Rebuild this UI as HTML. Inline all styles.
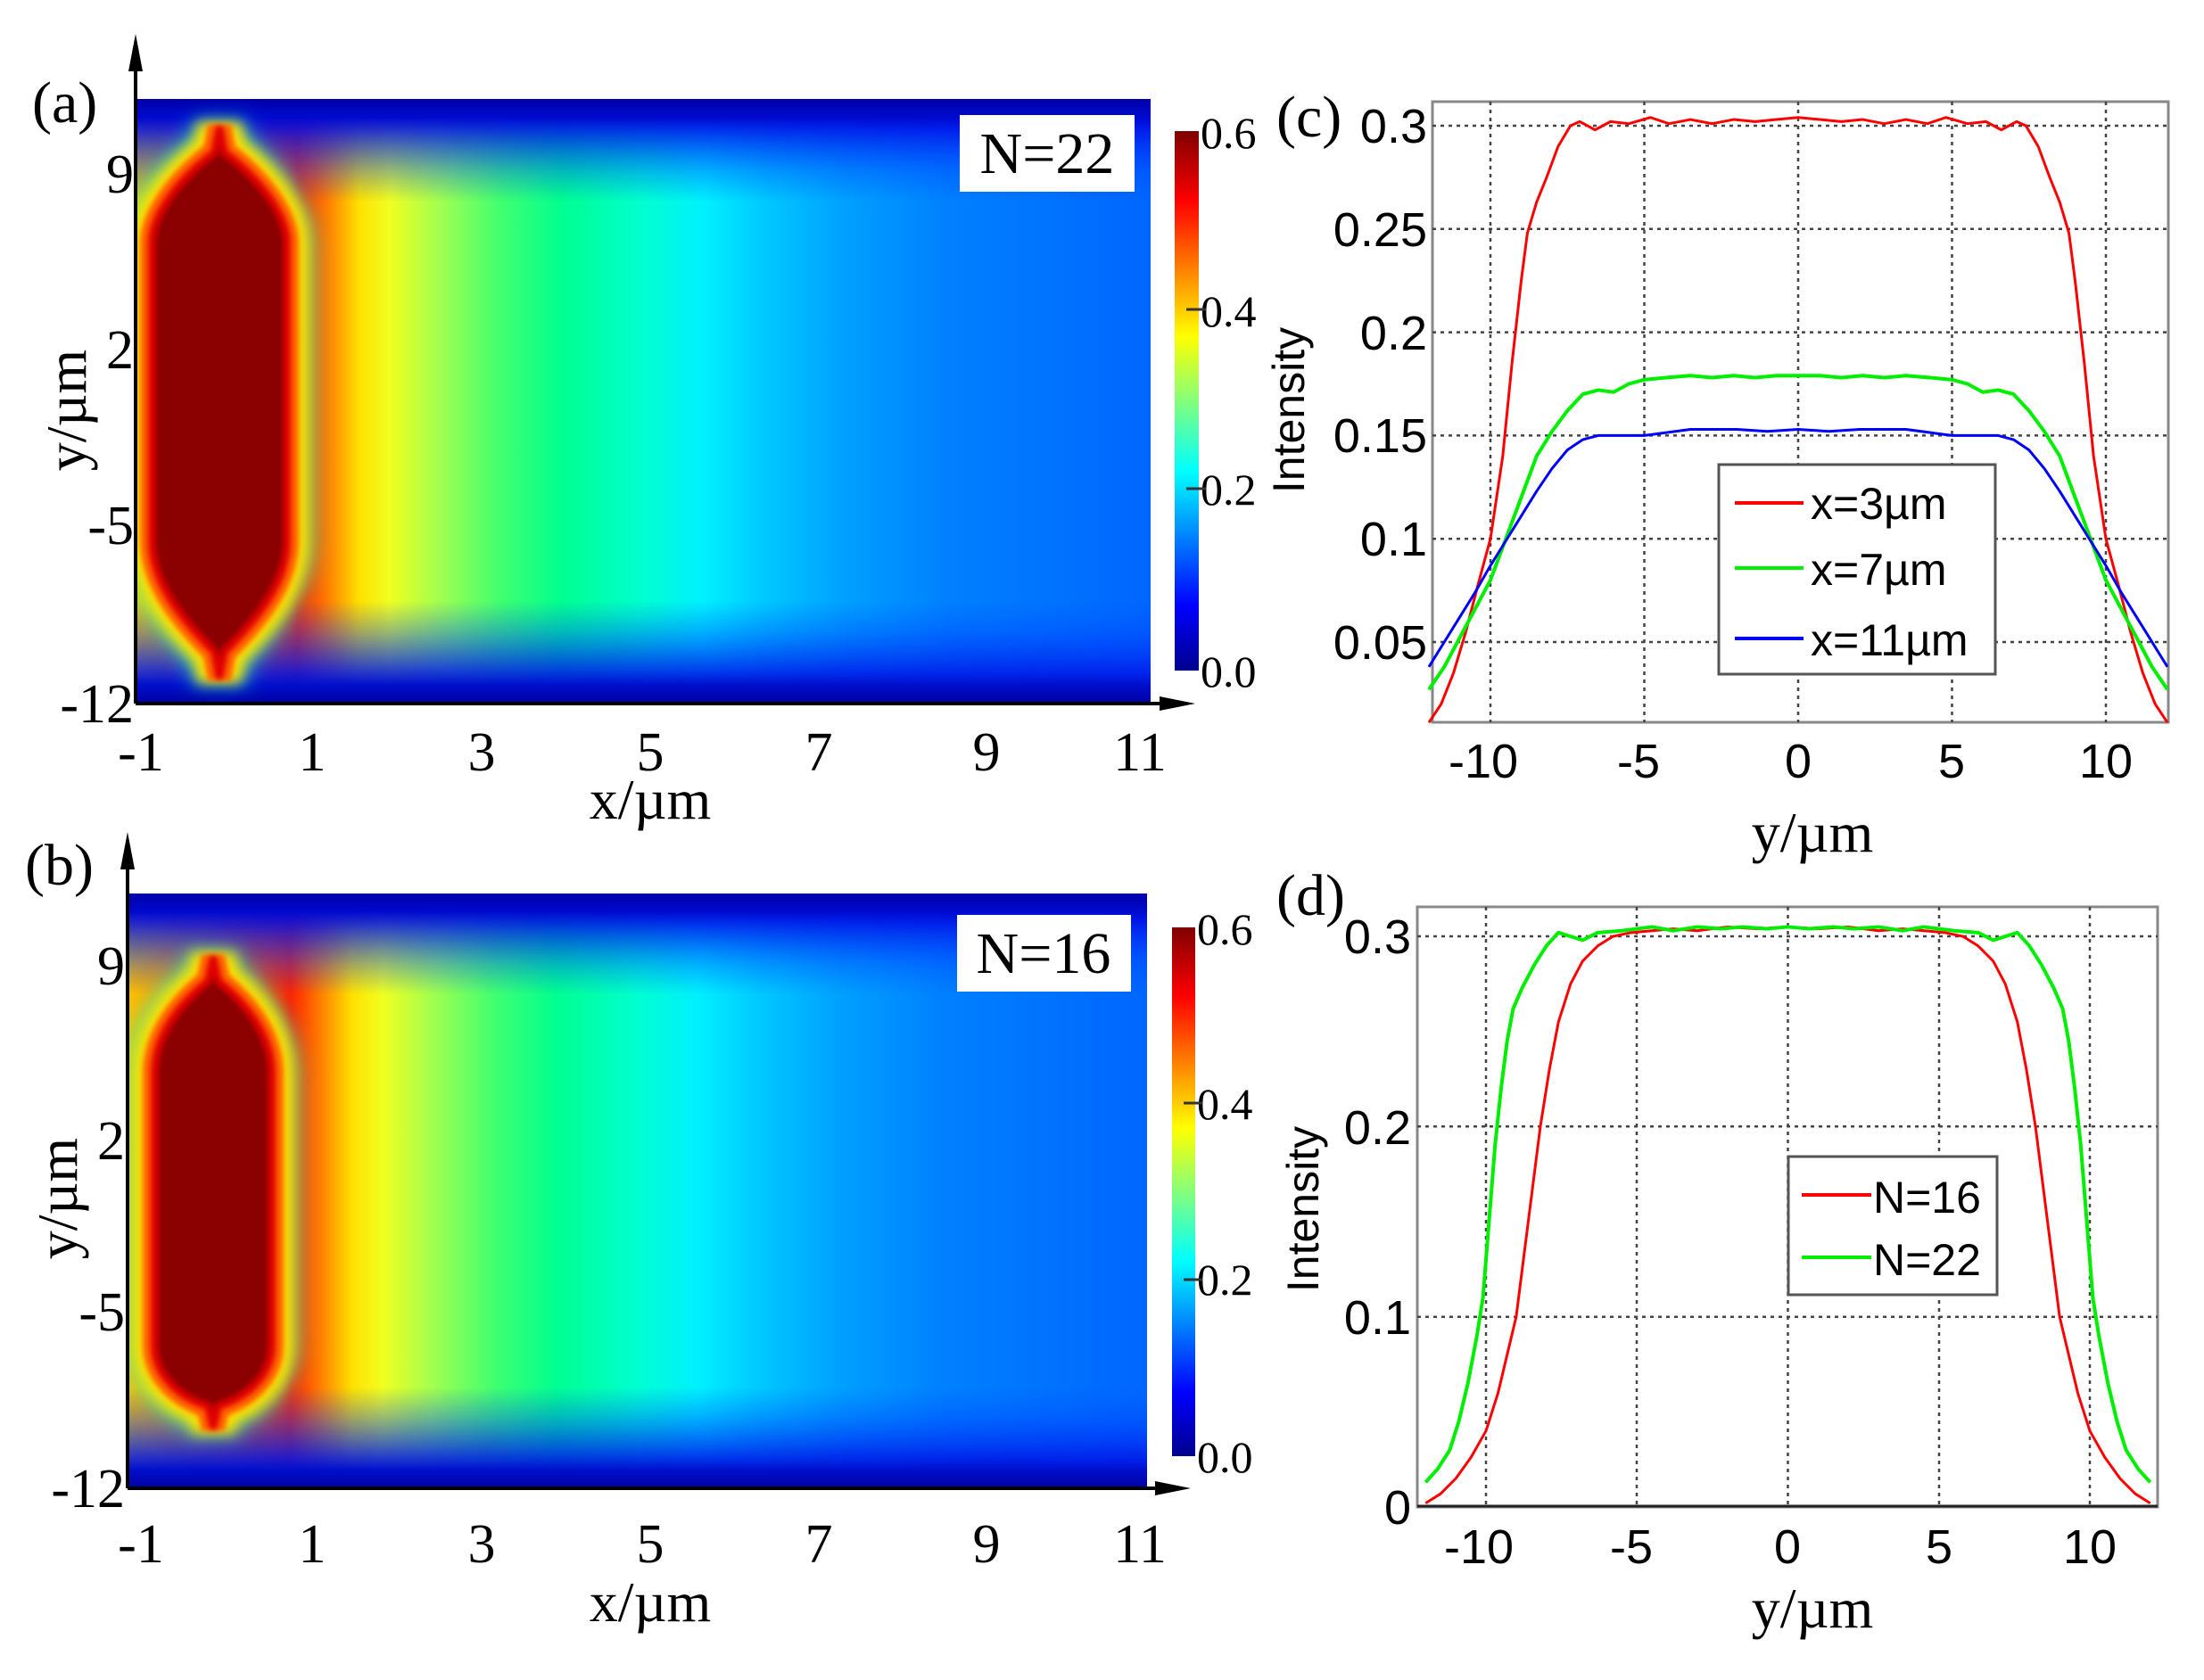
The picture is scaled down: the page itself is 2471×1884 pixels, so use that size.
<!DOCTYPE html>
<html><head><meta charset="utf-8"><style>
html,body{margin:0;padding:0;background:#fff}
svg{display:block}
.s{font-family:"Liberation Serif",serif}
.a{font-family:"Liberation Sans",sans-serif}
</style></head><body>
<svg width="2471" height="1884" viewBox="0 0 2471 1884" xmlns="http://www.w3.org/2000/svg">
<defs>
<linearGradient id="bg" x1="0" y1="0" x2="0" y2="1">
<stop offset="0" stop-color="#0000a8"/><stop offset="0.05" stop-color="#0010e8"/><stop offset="0.12" stop-color="#0040ff"/><stop offset="0.3" stop-color="#0064ff"/><stop offset="0.7" stop-color="#0064ff"/><stop offset="0.88" stop-color="#0040ff"/><stop offset="0.95" stop-color="#0018e8"/><stop offset="1" stop-color="#0000a0"/>
</linearGradient>
<linearGradient id="pl" x1="0" y1="0" x2="1" y2="0">
<stop offset="0" stop-color="#ffc000"/><stop offset="0.16" stop-color="#ff2000"/><stop offset="0.19" stop-color="#ff8000"/><stop offset="0.22" stop-color="#ffe000"/><stop offset="0.25" stop-color="#f0ff20"/><stop offset="0.3" stop-color="#a0ff50"/><stop offset="0.36" stop-color="#40ff70"/><stop offset="0.42" stop-color="#00ff90"/><stop offset="0.5" stop-color="#00ffd0"/><stop offset="0.56" stop-color="#00f0ff"/><stop offset="0.62" stop-color="#00c8ff"/><stop offset="0.7" stop-color="#00a0ff"/><stop offset="0.8" stop-color="#0080ff"/><stop offset="1" stop-color="#0066ff"/>
</linearGradient>
<linearGradient id="mvg" x1="0" y1="0" x2="0" y2="1">
<stop offset="0.03" stop-color="#fff" stop-opacity="0"/><stop offset="0.1" stop-color="#fff" stop-opacity="0.5"/><stop offset="0.17" stop-color="#fff" stop-opacity="1"/><stop offset="0.83" stop-color="#fff" stop-opacity="1"/><stop offset="0.9" stop-color="#fff" stop-opacity="0.5"/><stop offset="0.97" stop-color="#fff" stop-opacity="0"/>
</linearGradient>
<mask id="mv" maskContentUnits="objectBoundingBox"><rect width="1" height="1" fill="url(#mvg)"/></mask>
<linearGradient id="cb" x1="0" y1="1" x2="0" y2="0">
<stop offset="0" stop-color="#00008f"/><stop offset="0.12" stop-color="#0000ff"/><stop offset="0.37" stop-color="#00ffff"/><stop offset="0.62" stop-color="#ffff00"/><stop offset="0.87" stop-color="#ff0000"/><stop offset="1" stop-color="#800000"/>
</linearGradient>
<filter id="b1" x="-50%" y="-50%" width="200%" height="200%"><feGaussianBlur stdDeviation="12"/></filter>
<filter id="b2" x="-50%" y="-50%" width="200%" height="200%"><feGaussianBlur stdDeviation="7"/></filter>
<filter id="b3" x="-50%" y="-50%" width="200%" height="200%"><feGaussianBlur stdDeviation="3"/></filter>
<clipPath id="ca"><rect x="0" y="0" width="1138" height="678"/></clipPath>
<clipPath id="cbp"><rect x="0" y="0" width="1143" height="667"/></clipPath>
</defs>

<!-- ===== (a) heatmap ===== -->
<g transform="translate(152,111)" clip-path="url(#ca)">
<rect width="1138" height="678" fill="url(#bg)"/>
<rect width="1138" height="678" fill="url(#pl)" mask="url(#mv)"/>
<path d="M94,31 L100,60 C140,90 170,130 170,162 L170,495 C170,540 140,580 100,620 L94,650 L88,620 C48,580 18,540 18,495 L18,162 C18,130 48,90 88,60 Z" fill="none" stroke="#00ffc0" stroke-width="60" filter="url(#b1)" opacity="0.7"/>
<path d="M94,31 L100,60 C140,90 170,130 170,162 L170,495 C170,540 140,580 100,620 L94,650 L88,620 C48,580 18,540 18,495 L18,162 C18,130 48,90 88,60 Z" fill="none" stroke="#ffe000" stroke-width="50" filter="url(#b2)"/>
<path d="M94,31 L100,60 C140,90 170,130 170,162 L170,495 C170,540 140,580 100,620 L94,650 L88,620 C48,580 18,540 18,495 L18,162 C18,130 48,90 88,60 Z" fill="#ff6000" stroke="#ff6000" stroke-width="26" filter="url(#b3)"/>
<path d="M94,31 L100,60 C140,90 170,130 170,162 L170,495 C170,540 140,580 100,620 L94,650 L88,620 C48,580 18,540 18,495 L18,162 C18,130 48,90 88,60 Z" fill="#8b0000" stroke="#e00000" stroke-width="8" filter="url(#b3)"/>
</g>
<rect x="1076" y="129" width="196" height="86" fill="#fff"/>
<text x="1174" y="194" class="s" font-size="66" text-anchor="middle">N=22</text>
<line x1="152" y1="60" x2="152" y2="789" stroke="#000" stroke-width="4"/>
<polygon points="144,80 152,38 160,80" fill="#000"/>
<line x1="152" y1="789" x2="1310" y2="789" stroke="#000" stroke-width="4"/>
<polygon points="1300,781 1340,789 1300,797" fill="#000"/>
<rect x="1317" y="147" width="27" height="605" fill="url(#cb)"/>
<g class="s" font-size="50">
<text x="1346" y="166">0.6</text><text x="1346" y="366">0.4</text><text x="1346" y="566">0.2</text><text x="1346" y="770">0.0</text>
</g>
<g stroke="#333" stroke-width="3"><line x1="1330" y1="347" x2="1352" y2="347"/><line x1="1330" y1="548" x2="1352" y2="548"/></g>
<g class="s" font-size="62" text-anchor="middle">
<text x="158" y="864">-1</text><text x="350" y="864">1</text><text x="540" y="864">3</text><text x="729" y="864">5</text><text x="918" y="864">7</text><text x="1106" y="864">9</text><text x="1278" y="864">11</text>
</g>
<g class="s" font-size="62" text-anchor="end">
<text x="150" y="216">9</text><text x="150" y="413">2</text><text x="150" y="610">-5</text><text x="150" y="810">-12</text>
</g>
<text x="729" y="918" class="s" font-size="64" text-anchor="middle">x/µm</text>
<text transform="translate(96,460) rotate(-90)" class="s" font-size="64" text-anchor="middle">y/µm</text>
<text x="36" y="137" class="s" font-size="66">(a)</text>

<!-- ===== (b) heatmap ===== -->
<g transform="translate(143,1002)" clip-path="url(#cbp)">
<rect width="1143" height="667" fill="url(#bg)"/>
<rect width="1143" height="667" fill="url(#pl)" mask="url(#mv)"/>
<path d="M96,71 L102,98 C135,125 162,160 162,202 L162,506 C162,540 135,565 102,575 L96,600 L90,575 C57,565 30,540 30,506 L30,202 C30,160 57,125 90,98 Z" fill="none" stroke="#00ffc0" stroke-width="60" filter="url(#b1)" opacity="0.7"/>
<path d="M96,71 L102,98 C135,125 162,160 162,202 L162,506 C162,540 135,565 102,575 L96,600 L90,575 C57,565 30,540 30,506 L30,202 C30,160 57,125 90,98 Z" fill="none" stroke="#ffe000" stroke-width="50" filter="url(#b2)"/>
<path d="M96,71 L102,98 C135,125 162,160 162,202 L162,506 C162,540 135,565 102,575 L96,600 L90,575 C57,565 30,540 30,506 L30,202 C30,160 57,125 90,98 Z" fill="#ff6000" stroke="#ff6000" stroke-width="26" filter="url(#b3)"/>
<path d="M96,71 L102,98 C135,125 162,160 162,202 L162,506 C162,540 135,565 102,575 L96,600 L90,575 C57,565 30,540 30,506 L30,202 C30,160 57,125 90,98 Z" fill="#8b0000" stroke="#e00000" stroke-width="8" filter="url(#b3)"/>
</g>
<rect x="1073" y="1026" width="195" height="86" fill="#fff"/>
<text x="1170" y="1091" class="s" font-size="66" text-anchor="middle">N=16</text>
<line x1="143" y1="955" x2="143" y2="1669" stroke="#000" stroke-width="4"/>
<polygon points="135,975 143,933 151,975" fill="#000"/>
<line x1="143" y1="1669" x2="1305" y2="1669" stroke="#000" stroke-width="4"/>
<polygon points="1295,1661 1335,1669 1295,1677" fill="#000"/>
<rect x="1314" y="1040" width="26" height="593" fill="url(#cb)"/>
<g class="s" font-size="50">
<text x="1342" y="1059">0.6</text><text x="1342" y="1255">0.4</text><text x="1342" y="1452">0.2</text><text x="1342" y="1651">0.0</text>
</g>
<g stroke="#333" stroke-width="3"><line x1="1327" y1="1237" x2="1348" y2="1237"/><line x1="1327" y1="1435" x2="1348" y2="1435"/></g>
<g class="s" font-size="62" text-anchor="middle">
<text x="158" y="1752">-1</text><text x="350" y="1752">1</text><text x="540" y="1752">3</text><text x="729" y="1752">5</text><text x="918" y="1752">7</text><text x="1106" y="1752">9</text><text x="1278" y="1752">11</text>
</g>
<g class="s" font-size="62" text-anchor="end">
<text x="140" y="1104">9</text><text x="140" y="1300">2</text><text x="140" y="1492">-5</text><text x="140" y="1690">-12</text>
</g>
<text x="729" y="1818" class="s" font-size="64" text-anchor="middle">x/µm</text>
<text transform="translate(86,1344) rotate(-90)" class="s" font-size="64" text-anchor="middle">y/µm</text>
<text x="28" y="992" class="s" font-size="66">(b)</text>

<!-- ===== (c) ===== -->
<rect x="1606" y="114" width="825" height="696" fill="#fff" stroke="#888" stroke-width="3"/>
<g stroke="#444" stroke-width="2.5" stroke-dasharray="4,5">
<line x1="1671" y1="114" x2="1671" y2="810"/><line x1="1843.5" y1="114" x2="1843.5" y2="810"/><line x1="2016" y1="114" x2="2016" y2="810"/><line x1="2188.5" y1="114" x2="2188.5" y2="810"/><line x1="2361" y1="114" x2="2361" y2="810"/>
<line x1="1606" y1="141" x2="2431" y2="141"/><line x1="1606" y1="256.8" x2="2431" y2="256.8"/><line x1="1606" y1="372.6" x2="2431" y2="372.6"/><line x1="1606" y1="488.4" x2="2431" y2="488.4"/><line x1="1606" y1="604.2" x2="2431" y2="604.2"/><line x1="1606" y1="720" x2="2431" y2="720"/>
</g>
<g transform="matrix(34.5,0,0,-2316,2016,835.8)" fill="none" stroke-width="3" stroke-linejoin="round">
<polyline vector-effect="non-scaling-stroke" stroke="#ff0000" points="-12,0.011 -11.6,0.02 -11.2,0.035 -10.8,0.055 -10.4,0.078 -10,0.1 -9.6,0.14 -9.3,0.185 -9,0.225 -8.8,0.248 -8.5,0.263 -8.2,0.274 -7.8,0.29 -7.4,0.3 -7.1,0.302 -6.6,0.298 -6.1,0.302 -5.5,0.301 -4.8,0.304 -4.2,0.301 -3.5,0.303 -2.8,0.301 -2.1,0.303 -1.4,0.302 -0.7,0.303 0,0.304 0.7,0.303 1.4,0.302 2.1,0.303 2.8,0.301 3.5,0.303 4.2,0.301 4.8,0.304 5.5,0.301 6.1,0.302 6.6,0.298 7.1,0.302 7.4,0.3 7.8,0.29 8.2,0.274 8.5,0.263 8.8,0.248 9,0.225 9.3,0.185 9.6,0.14 10,0.1 10.4,0.078 10.8,0.055 11.2,0.035 11.6,0.02 12,0.011"/>
<polyline vector-effect="non-scaling-stroke" stroke="#00ee00" stroke-width="4" points="-12,0.027 -11.5,0.038 -11,0.052 -10.5,0.066 -10,0.08 -9.5,0.1 -9,0.12 -8.5,0.14 -8,0.152 -7.5,0.162 -7,0.17 -6.5,0.172 -6,0.171 -5.5,0.175 -5,0.177 -4.3,0.178 -3.5,0.179 -2.8,0.178 -2.1,0.179 -1.4,0.178 -0.7,0.179 0,0.179 0.7,0.179 1.4,0.178 2.1,0.179 2.8,0.178 3.5,0.179 4.3,0.178 5,0.177 5.5,0.175 6,0.171 6.5,0.172 7,0.17 7.5,0.162 8,0.152 8.5,0.14 9,0.12 9.5,0.1 10,0.08 10.5,0.066 11,0.052 11.5,0.038 12,0.027"/>
<polyline vector-effect="non-scaling-stroke" stroke="#0000ff" points="-12,0.038 -11.5,0.05 -11,0.062 -10.5,0.074 -10,0.087 -9.5,0.099 -9,0.111 -8.5,0.123 -8,0.134 -7.5,0.143 -7,0.148 -6.5,0.15 -6,0.15 -5,0.15 -4.5,0.151 -3.5,0.153 -2,0.153 -1,0.152 0,0.153 1,0.152 2,0.153 3.5,0.153 4.5,0.151 5,0.15 6,0.15 6.5,0.15 7,0.148 7.5,0.143 8,0.134 8.5,0.123 9,0.111 9.5,0.099 10,0.087 10.5,0.074 11,0.062 11.5,0.05 12,0.038"/>
</g>
<rect x="1927" y="521" width="310" height="235" fill="#fff" stroke="#555" stroke-width="3"/>
<g stroke-width="4"><line x1="1945" y1="564" x2="2022" y2="564" stroke="#ff0000"/><line x1="1945" y1="637" x2="2022" y2="637" stroke="#00ee00"/><line x1="1945" y1="716" x2="2022" y2="716" stroke="#0000ff"/></g>
<g class="a" font-size="50"><text x="2030" y="582">x=3µm</text><text x="2030" y="656">x=7µm</text><text x="2030" y="735">x=11µm</text></g>
<g class="a" font-size="54" text-anchor="end">
<text x="1600" y="160">0.3</text><text x="1600" y="276">0.25</text><text x="1600" y="392">0.2</text><text x="1600" y="507">0.15</text><text x="1600" y="623">0.1</text><text x="1600" y="739">0.05</text>
</g>
<g class="a" font-size="54" text-anchor="middle">
<text x="1663" y="872">-10</text><text x="1837" y="872">-5</text><text x="2016" y="872">0</text><text x="2188" y="872">5</text><text x="2361" y="872">10</text>
</g>
<text x="2032" y="955" class="s" font-size="64" text-anchor="middle">y/µm</text>
<text transform="translate(1462,460) rotate(-90)" class="a" font-size="50" text-anchor="middle">Intensity</text>
<text x="1431" y="153" class="s" font-size="66">(c)</text>

<!-- ===== (d) ===== -->
<rect x="1589" y="1017" width="830" height="673" fill="#fff" stroke="#888" stroke-width="3"/>
<g stroke="#444" stroke-width="2.5" stroke-dasharray="4,5">
<line x1="1666" y1="1017" x2="1666" y2="1690"/><line x1="1835" y1="1017" x2="1835" y2="1690"/><line x1="2004.5" y1="1017" x2="2004.5" y2="1690"/><line x1="2174" y1="1017" x2="2174" y2="1690"/><line x1="2343" y1="1017" x2="2343" y2="1690"/>
<line x1="1589" y1="1050" x2="2419" y2="1050"/><line x1="1589" y1="1263.3" x2="2419" y2="1263.3"/><line x1="1589" y1="1476.7" x2="2419" y2="1476.7"/>
</g>
<line x1="1589" y1="1689" x2="2419" y2="1689" stroke="#222" stroke-width="3"/>
<g transform="matrix(33.85,0,0,-2133,2004.5,1690)" fill="none" stroke-width="3" stroke-linejoin="round">
<polyline vector-effect="non-scaling-stroke" stroke="#ff0000" points="-12,0.002 -11.5,0.007 -11,0.015 -10.5,0.026 -10,0.04 -9.6,0.06 -9.3,0.08 -9,0.1 -8.8,0.125 -8.6,0.15 -8.4,0.175 -8.2,0.2 -7.9,0.23 -7.6,0.255 -7.2,0.275 -6.8,0.287 -6.3,0.295 -5.8,0.3 -5.2,0.302 -4.5,0.303 -3.8,0.304 -3,0.303 -2,0.305 -1,0.304 0,0.305 1,0.304 2,0.305 3,0.303 3.8,0.304 4.5,0.303 5.2,0.302 5.8,0.3 6.3,0.295 6.8,0.287 7.2,0.275 7.6,0.255 7.9,0.23 8.2,0.2 8.4,0.175 8.6,0.15 8.8,0.125 9,0.1 9.3,0.08 9.6,0.06 10,0.04 10.5,0.026 11,0.015 11.5,0.007 12,0.002"/>
<polyline vector-effect="non-scaling-stroke" stroke="#00ee00" stroke-width="4" points="-12,0.013 -11.6,0.02 -11.2,0.03 -10.9,0.045 -10.6,0.065 -10.3,0.09 -10.1,0.11 -9.9,0.15 -9.7,0.19 -9.5,0.22 -9.3,0.245 -9.1,0.262 -8.8,0.273 -8.4,0.285 -8,0.295 -7.6,0.302 -7.2,0.3 -6.8,0.298 -6.3,0.302 -5.5,0.303 -4.5,0.305 -3.8,0.303 -3,0.305 -2.2,0.304 -1.5,0.305 -0.7,0.304 0,0.305 0.7,0.304 1.5,0.305 2.2,0.304 3,0.305 3.8,0.303 4.5,0.305 5.5,0.303 6.3,0.302 6.8,0.298 7.2,0.3 7.6,0.302 8,0.295 8.4,0.285 8.8,0.273 9.1,0.262 9.3,0.245 9.5,0.22 9.7,0.19 9.9,0.15 10.1,0.11 10.3,0.09 10.6,0.065 10.9,0.045 11.2,0.03 11.6,0.02 12,0.013"/>
</g>
<rect x="2005" y="1297" width="234" height="155" fill="#fff" stroke="#555" stroke-width="3"/>
<g stroke-width="4"><line x1="2020" y1="1340" x2="2098" y2="1340" stroke="#ff0000"/><line x1="2020" y1="1410" x2="2098" y2="1410" stroke="#00ee00"/></g>
<g class="a" font-size="50"><text x="2100" y="1360">N=16</text><text x="2100" y="1430">N=22</text></g>
<g class="a" font-size="54" text-anchor="end">
<text x="1582" y="1069">0.3</text><text x="1582" y="1283">0.2</text><text x="1582" y="1496">0.1</text><text x="1582" y="1709">0</text>
</g>
<g class="a" font-size="54" text-anchor="middle">
<text x="1658" y="1753">-10</text><text x="1829" y="1753">-5</text><text x="2004" y="1753">0</text><text x="2174" y="1753">5</text><text x="2343" y="1753">10</text>
</g>
<text x="2032" y="1825" class="s" font-size="64" text-anchor="middle">y/µm</text>
<text transform="translate(1478,1356) rotate(-90)" class="a" font-size="50" text-anchor="middle">Intensity</text>
<text x="1431" y="1026" class="s" font-size="66">(d)</text>
</svg>
</body></html>
